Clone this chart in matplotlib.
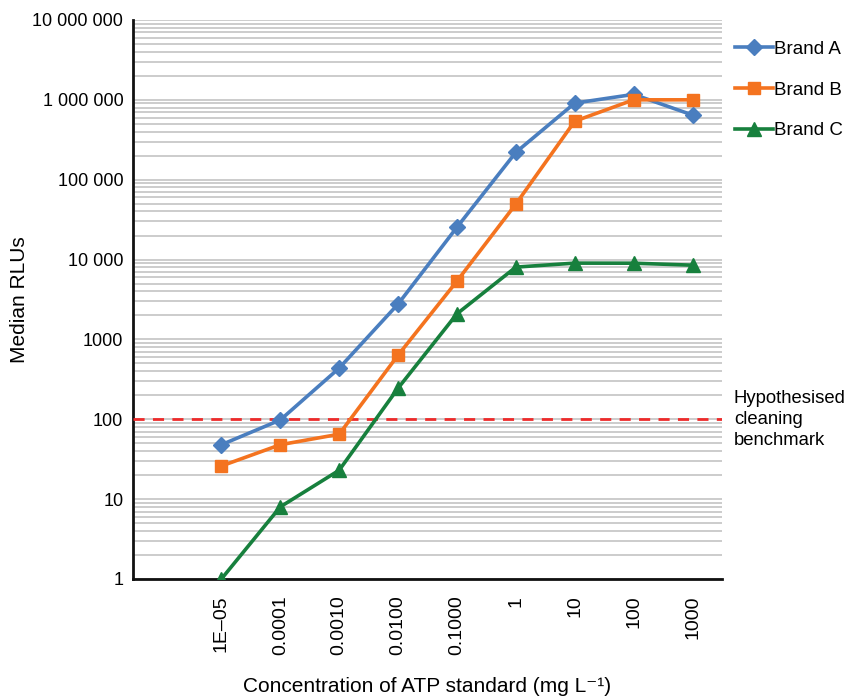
import numpy as np
import matplotlib.pyplot as plt
from matplotlib.ticker import FixedLocator, NullFormatter

plt.rcParams['font.family'] = ['Liberation Sans', 'DejaVu Sans']

# data
concentrations = ['1E\u201305', '0.0001', '0.0010', '0.0100', '0.1000', '1', '10', '100', '1000']
brand_a = [48, 98, 437, 2770, 25400, 220000, 910000, 1170000, 645000]
brand_b = [26, 48, 65, 635, 5370, 49500, 540000, 1000000, 1000000]
brand_c = [1, 8, 23, 245, 2090, 8040, 9020, 9000, 8500]
benchmark = 100

y_ticks = [1, 10, 100, 1000, 10000, 100000, 1000000, 10000000]
y_labels = ['1', '10', '100', '1000', '10 000', '100 000', '1 000 000', '10 000 000']

fig = plt.figure(figsize=(8.49, 6.98), dpi=100)
ax = fig.add_axes([0.1567, 0.1705, 0.6937, 0.8009])

x = np.arange(1, len(concentrations) + 1)

ax.plot(x, brand_a, color='#4a7ebf', lw=2.6, marker='D', ms=8.5, label='Brand A', zorder=4)
ax.plot(x, brand_b, color='#f4731f', lw=2.6, marker='s', ms=8, label='Brand B', zorder=4)
ax.plot(x, brand_c, color='#17803d', lw=2.6, marker='^', ms=10.5, label='Brand C', zorder=4)
ax.axhline(benchmark, color='#ee2a2a', lw=2, ls=(0, (4, 3)), zorder=3)

ax.set_yscale('log')
ax.set_ylim(1, 1e7)
ax.set_xlim(-0.5, 9.5)

ax.yaxis.set_major_locator(FixedLocator(y_ticks))
ax.set_yticklabels(y_labels, fontsize=13)
minor = [m * 10 ** d for d in range(7) for m in range(2, 10)]
ax.yaxis.set_minor_locator(FixedLocator(minor))
ax.yaxis.set_minor_formatter(NullFormatter())
ax.grid(True, which='both', axis='y', color='#c4c4c4', lw=1.2)
ax.set_axisbelow(True)

ax.set_xticks(x)
ax.set_xticklabels(concentrations, rotation=90, fontsize=14)
ax.tick_params(axis='y', which='both', length=0, pad=7)
ax.tick_params(axis='x', which='both', length=0, pad=12)

for s in ['top', 'right']:
    ax.spines[s].set_visible(False)
for s in ['left', 'bottom']:
    ax.spines[s].set_linewidth(2)
    ax.spines[s].set_color('#111111')

ax.set_ylabel('Median RLUs', fontsize=15)
ax.yaxis.set_label_coords(-0.177, 0.5)
ax.set_xlabel('Concentration of ATP standard (mg L\u207b\u00b9)', fontsize=15)
ax.xaxis.set_label_coords(0.5, -0.175)

ax.legend(loc='upper left', bbox_to_anchor=(1.0, 0.986), frameon=False, fontsize=13.5,
          handlelength=2.0, handletextpad=0.1, labelspacing=1.25, borderaxespad=0.3)

ax.text(1.02, benchmark, 'Hypothesised\ncleaning\nbenchmark', transform=ax.get_yaxis_transform(),
        fontsize=13.3, va='center', ha='left', linespacing=1.3)

fig.savefig('out.png', dpi=100)
